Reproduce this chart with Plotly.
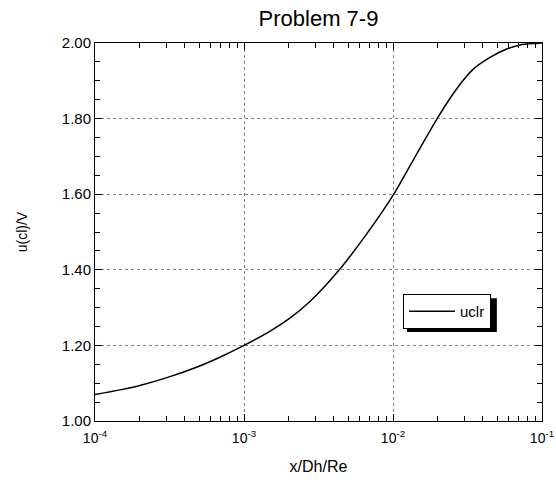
import plotly.graph_objects as go

# Data
x_vals = [1e-4, 1.5e-4, 2e-4, 3e-4, 5e-4, 7e-4, 1e-3, 1.5e-3, 2e-3, 2.77e-3,
          4.36e-3, 6.66e-3, 1e-2, 1.37e-2, 1.96e-2, 2.29e-2, 2.82e-2, 3.46e-2,
          4.48e-2, 5.79e-2, 7.12e-2, 9.2e-2, 1e-1]
u_vals = [1.070, 1.083, 1.094, 1.114, 1.145, 1.170, 1.200, 1.238, 1.270, 1.316,
          1.400, 1.495, 1.597, 1.691, 1.797, 1.840, 1.891, 1.931,
          1.962, 1.984, 1.995, 1.999, 2.000]

x_tickvals = [1e-4, 1e-3, 1e-2, 1e-1]
x_ticktext = ["10<sup>-4</sup>", "10<sup>-3</sup>", "10<sup>-2</sup>", "10<sup>-1</sup>"]
x_minor = [m * d for d in [1e-4, 1e-3, 1e-2] for m in range(2, 10)]
y_tickvals = [1.0, 1.2, 1.4, 1.6, 1.8, 2.0]
y_ticktext = ["1.00", "1.20", "1.40", "1.60", "1.80", "2.00"]

FONT = "Liberation Sans, Arial, sans-serif"

fig = go.Figure()
fig.add_trace(go.Scatter(x=x_vals, y=u_vals, mode="lines", name="uclr",
                         line=dict(color="black", width=1.5, shape="spline",
                                   smoothing=0.8)))

# legend drop shadow (decoration)
fig.add_shape(type="rect", xref="paper", yref="paper",
              x0=0.698, x1=0.899, y0=0.2355, y1=0.325,
              fillcolor="black", line=dict(width=0), layer="above")

fig.update_layout(
    width=556, height=483,
    margin=dict(l=95, r=14, t=43, b=62),
    paper_bgcolor="white", plot_bgcolor="white",
    font=dict(family=FONT, color="black", size=14),
    title=dict(text="Problem 7-9", x=(95 + 542) / 2 / 556, xanchor="center",
               y=1 - 18 / 483, yanchor="middle", font=dict(size=22)),
    showlegend=True,
    legend=dict(x=0.689, y=0.336, xanchor="left", yanchor="top",
                bgcolor="white", bordercolor="black", borderwidth=1,
                font=dict(size=15), itemwidth=46),
)

fig.update_xaxes(type="log", range=[-4, -1], automargin=False,
                 tickmode="array", tickvals=x_tickvals, ticktext=x_ticktext,
                 ticks="inside", ticklen=7, tickcolor="black",
                 showline=True, linecolor="black", linewidth=1, mirror="ticks",
                 showgrid=True, gridcolor="#808080", griddash="dot", gridwidth=1,
                 tickfont=dict(size=14), ticklabelstandoff=4,
                 minor=dict(tickvals=x_minor, ticks="inside", ticklen=5,
                            tickcolor="black", showgrid=False),
                 title=dict(text="x/Dh/Re", font=dict(size=16), standoff=16),
                 zeroline=False)

fig.update_yaxes(range=[1.0, 2.0], automargin=False,
                 tickmode="array", tickvals=y_tickvals, ticktext=y_ticktext,
                 ticks="inside", ticklen=7, tickcolor="black",
                 showline=True, linecolor="black", linewidth=1, mirror="ticks",
                 showgrid=True, gridcolor="#808080", griddash="dot", gridwidth=1,
                 tickfont=dict(size=15),
                 minor=dict(dtick=0.05, ticks="inside", ticklen=5,
                            tickcolor="black", showgrid=False),
                 title=dict(text="u(cl)/V", font=dict(size=14), standoff=30),
                 zeroline=False)

fig.write_html("out.html")
